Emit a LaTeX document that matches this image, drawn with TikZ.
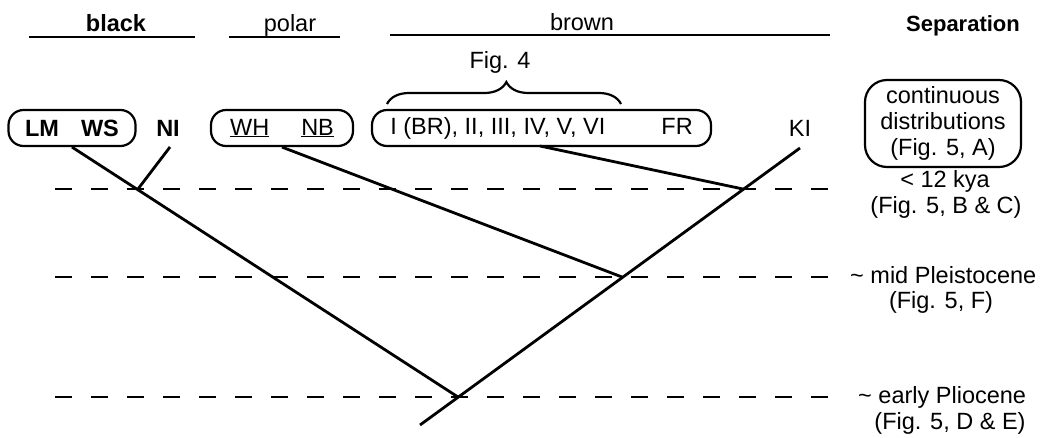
\documentclass[tikz,border=0pt]{standalone}
\usepackage{fontspec}
\setmainfont{Liberation Sans}
\usetikzlibrary{decorations.pathreplacing}
\begin{document}
\begin{tikzpicture}[x=1pt,y=-1pt,
  every node/.style={font=\fontsize{23.5}{26}\selectfont, inner sep=0pt},
  hdr/.style={font=\fontsize{22}{26}\selectfont\bfseries},
  rulel/.style={line width=2.2pt},
  branch/.style={line width=2.8pt},
  era/.style={line width=2.8pt, dash pattern=on 17pt off 19pt},
  grp/.style={draw, rounded corners=15pt, line width=2.2pt, minimum height=36pt},
  brc/.style={decorate, decoration={brace, amplitude=22pt, aspect=0.51}, line width=2.2pt}]
\useasboundingbox (0,0) rectangle (1048,437);
% headers
\node[hdr, font=\fontsize{23.5}{26}\selectfont\bfseries, anchor=base] (black) at (116,31) {black};
\node[anchor=base] (polar) at (290,31) {polar};
\node[anchor=base] (brown) at (582,30) {brown};
\node[hdr, anchor=base] (sep) at (963,31) {Separation};
\draw[rulel] (29,37) -- (195,37);
\draw[rulel] (229,37) -- (340,37);
\draw[rulel] (390,35) -- (830,35);
% groups
\node[grp, minimum width=127pt] (bk) at (72,128) {\textbf{LM}\hspace{22pt}\textbf{WS}};
\node (ni) at (168,128) {\textbf{NI}};
\node[grp, minimum width=142pt] (pl) at (282,128) {\underline{WH}\hspace{32pt}\underline{NB}};
\node[grp, minimum width=339pt] (br) at (541.5,128) {I (BR), II, III, IV, V, VI\hspace{56pt}FR};
\node (ki) at (800,128) {KI};
\node[grp, align=center, minimum width=156pt, minimum height=87pt, rounded corners=22pt] (cd) at (943,123.5) {continuous\\distributions\\(Fig. 5, A)};
% brace
\node (fig4) at (500,62) {Fig. 4};
\coordinate (bl) at (387,104);
\coordinate (brr) at (621,104);
\draw[brc] (bl) -- (brr);
% time labels
\node (e1) at (945,181) {< 12 kya};
\node (e1f) at (946,207) {(Fig. 5, B \& C)};
\node[anchor=west] (e2) at (850,275) {\textasciitilde{} mid Pleistocene};
\node (e2f) at (941,302) {(Fig. 5, F)};
\node[anchor=west] (e3) at (858,397) {\textasciitilde{} early Pliocene};
\node (e3f) at (950,423) {(Fig. 5, D \& E)};
% dashed era lines
\coordinate (d1a) at (55,189); \coordinate (d1b) at (832,189);
\coordinate (d2a) at (55,277); \coordinate (d2b) at (832,277);
\coordinate (d3a) at (55,397); \coordinate (d3b) at (832,397);
\draw[era] (d1a) -- (d1b);
\draw[era] (d2a) -- (d2b);
\draw[era] (d3a) -- (d3b);
% tree
\coordinate (j1) at (138,189);
\coordinate (j3) at (743,189);
\coordinate (j2) at (622,277);
\coordinate (j0) at (458,397);
\coordinate (kbot) at (420,425);
\coordinate (nitip) at (170,147);
\coordinate (brtip) at (540,146);
\coordinate (kitip) at (800,148);
\draw[branch] (bk.south) -- (j0);
\draw[branch] (nitip) -- (j1);
\draw[branch] (pl.south) -- (j2);
\draw[branch] (brtip) -- (j3);
\draw[branch] (kitip) -- (kbot);
\end{tikzpicture}
\end{document}
